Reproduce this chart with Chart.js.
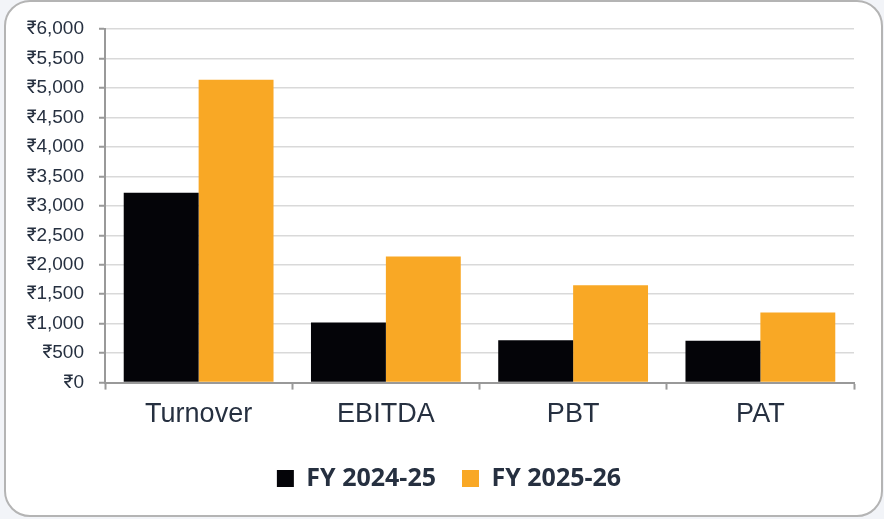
<!DOCTYPE html>
<html>
<head>
<meta charset="utf-8">
<script src="https://cdn.jsdelivr.net/npm/chart.js@4.4.1/dist/chart.umd.min.js"></script>
<style>
  html, body { margin: 0; padding: 0; background: #f2f4f8; }
  .card {
    position: absolute; left: 4px; top: 0px;
    width: 879px; height: 517px; box-sizing: border-box;
    border: 2px solid #b4b4b4; border-radius: 26px; background: #fff;
    overflow: hidden;
  }
  .card canvas { display: block; }
</style>
</head>
<body>
<div class="card"><canvas id="myChart" width="875" height="513"></canvas></div>
<script>
// --- Chart data ---
const categories = ['Turnover', 'EBITDA', 'PBT', 'PAT'];
const fy2425 = [3220, 1020, 720, 710];
const fy2526 = [5140, 2140, 1650, 1190];
const seriesNames = ['FY 2024-25', 'FY 2025-26'];
const yTicks = [0, 500, 1000, 1500, 2000, 2500, 3000, 3500, 4000, 4500, 5000, 5500, 6000];

const textColor = '#263040';
const axisGray = '#999999';

// nudge the legend a little right of the canvas centre
const legendShift = {
    id: 'legendShift',
    afterLayout(chart) {
        chart.legend.left += 19;
        chart.legend.right += 19;
    }
};

const ctx = document.getElementById('myChart');

const myChart = new Chart(ctx, {
    type: 'bar',
    data: {
        labels: categories,
        datasets: [
            { label: seriesNames[0], data: fy2425, backgroundColor: '#040408' },
            { label: seriesNames[1], data: fy2526, backgroundColor: '#f9a825' }
        ]
    },
    plugins: [legendShift],
    options: {
        responsive: false,
        animation: false,
        layout: { padding: { top: 27, right: 27, bottom: 14, left: 0 } },
        datasets: { bar: { categoryPercentage: 0.8, barPercentage: 1.0 } },
        scales: {
            x: {
                grid: { drawOnChartArea: false, drawTicks: true, tickLength: 7, tickColor: axisGray, tickWidth: 2 },
                border: { color: axisGray, width: 2 },
                ticks: { color: textColor, font: { family: 'Liberation Sans', size: 27 }, padding: 9 }
            },
            y: {
                min: 0,
                max: 6000,
                afterFit(scale) { scale.width = 99; },
                afterBuildTicks(scale) { scale.ticks = yTicks.map(v => ({ value: v })); },
                grid: { color: '#d9d9d9', lineWidth: 1.5, tickLength: 6, tickColor: axisGray, tickWidth: 2 },
                border: { color: axisGray, width: 2 },
                ticks: {
                    color: textColor,
                    padding: 15,
                    font: { family: '"Liberation Sans", Roboto', size: 19 },
                    callback: (v) => '₹' + Number(v).toLocaleString('en-US')
                }
            }
        },
        plugins: {
            legend: {
                position: 'bottom',
                labels: {
                    boxWidth: 17,
                    boxHeight: 17,
                    padding: 26,
                    color: textColor,
                    font: { family: 'Open Sans', size: 25, weight: 'bold' }
                }
            },
            tooltip: { enabled: false }
        }
    }
});
</script>
</body>
</html>
